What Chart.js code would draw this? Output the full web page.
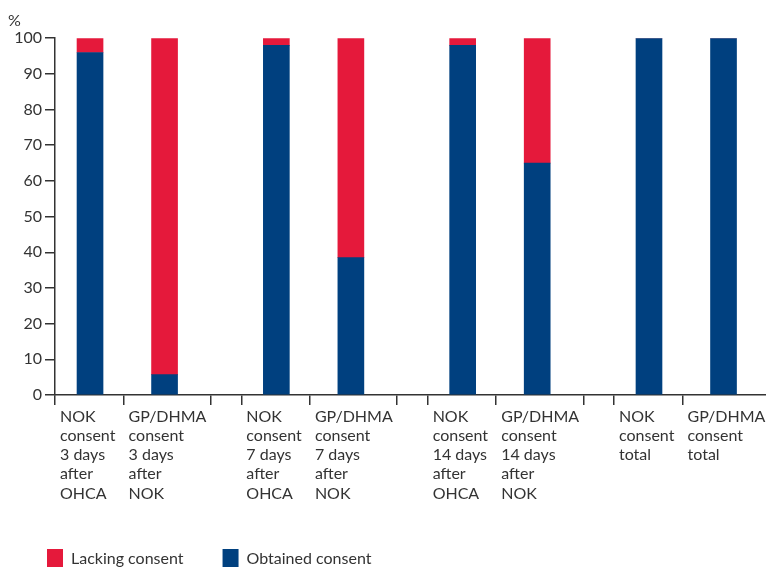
<!DOCTYPE html>
<html><head><meta charset="utf-8">
<script src="https://cdn.jsdelivr.net/npm/chart.js@4/dist/chart.umd.min.js"></script>
<style>html,body{margin:0;padding:0;background:#fff}#wrap{width:766px;height:567px;position:relative}</style>
</head><body><div id="wrap"><canvas id="c"></canvas></div>
<script>
const categories = [
  ["NOK","consent","3 days","after","OHCA"],
  ["GP/DHMA","consent","3 days","after","NOK"],
  ["NOK","consent","7 days","after","OHCA"],
  ["GP/DHMA","consent","7 days","after","NOK"],
  ["NOK","consent","14 days","after","OHCA"],
  ["GP/DHMA","consent","14 days","after","NOK"],
  ["NOK","consent","total"],
  ["GP/DHMA","consent","total"]
];
const obtainedConsent = [96, 5.7, 98, 38.5, 98, 65, 100, 100];
const lackingConsent  = [4, 94.3, 2, 61.5, 2, 35, 0, 0];
const seriesNames = ["Lacking consent", "Obtained consent"];
const yAxisUnit = "%";

// layout: bars in pairs, half-slot gap between pairs
const GROUP_GAP = 0.5;
const pos = categories.map((_, i) => i + GROUP_GAP * Math.floor(i / 2));

// boundary tick marks around each pair; labels sit at the left boundary of each bar
const xTickDefs = [];
for (let i = 0; i < categories.length; i += 2) {
  const s = pos[i];
  xTickDefs.push({ value: s - 0.47, lab: categories[i] });
  xTickDefs.push({ value: s + 0.45, lab: categories[i + 1] });
  if (i + 2 < categories.length) xTickDefs.push({ value: s + 1.62, lab: "" });
}

const BLUE = "#00407F", RED = "#E5193B", INK = "#333333";
const FONT = { family: "Lato, 'Open Sans', sans-serif", size: 16 };

new Chart(document.getElementById("c"), {
  type: "bar",
  data: {
    datasets: [
      { label: seriesNames[1], data: obtainedConsent.map((v, i) => ({ x: pos[i], y: v })),
        backgroundColor: BLUE, borderWidth: 0, barThickness: 26 },
      { label: seriesNames[0], data: lackingConsent.map((v, i) => ({ x: pos[i], y: v })),
        backgroundColor: RED, borderWidth: 0, barThickness: 26 }
    ]
  },
  options: {
    responsive: true, maintainAspectRatio: false, animation: false, devicePixelRatio: 1,
    layout: { padding: { left: 8, right: 0, top: 0, bottom: 0 } },
    plugins: {
      tooltip: { enabled: false },
      title: { display: true, text: yAxisUnit, align: "start", color: INK,
               font: { ...FONT, weight: "normal" }, padding: { top: 11, bottom: 8 } },
      legend: {
        position: "bottom", align: "start", reverse: true, maxHeight: 57,
        labels: { boxWidth: 16, boxHeight: 20, padding: 39, color: INK, font: FONT }
      }
    },
    scales: {
      x: {
        type: "linear", min: -0.47, max: 9.07, stacked: true, bounds: "data", offset: false,
        afterBuildTicks: s => { s.ticks = xTickDefs.map(t => ({ value: t.value, lab: t.lab })); },
        afterFit: s => { s.height = 115; },
        grid: { drawOnChartArea: false, drawTicks: true, tickLength: 10, color: INK, lineWidth: 1.5, offset: false },
        border: { color: INK, width: 1.5 },
        ticks: { autoSkip: false, maxRotation: 0, minRotation: 0, align: "start", labelOffset: 5,
                 padding: 2, color: INK, font: FONT, callback: (v, i, t) => t[i].lab }
      },
      y: {
        min: 0, max: 100, stacked: true,
        afterFit: s => { s.width = 47; },
        grid: { drawOnChartArea: false, tickLength: 10, color: INK, lineWidth: 1.5 },
        border: { color: INK, width: 1.5 },
        ticks: { stepSize: 10, padding: 3, color: INK, font: FONT }
      }
    }
  }
});
</script>
</body></html>
